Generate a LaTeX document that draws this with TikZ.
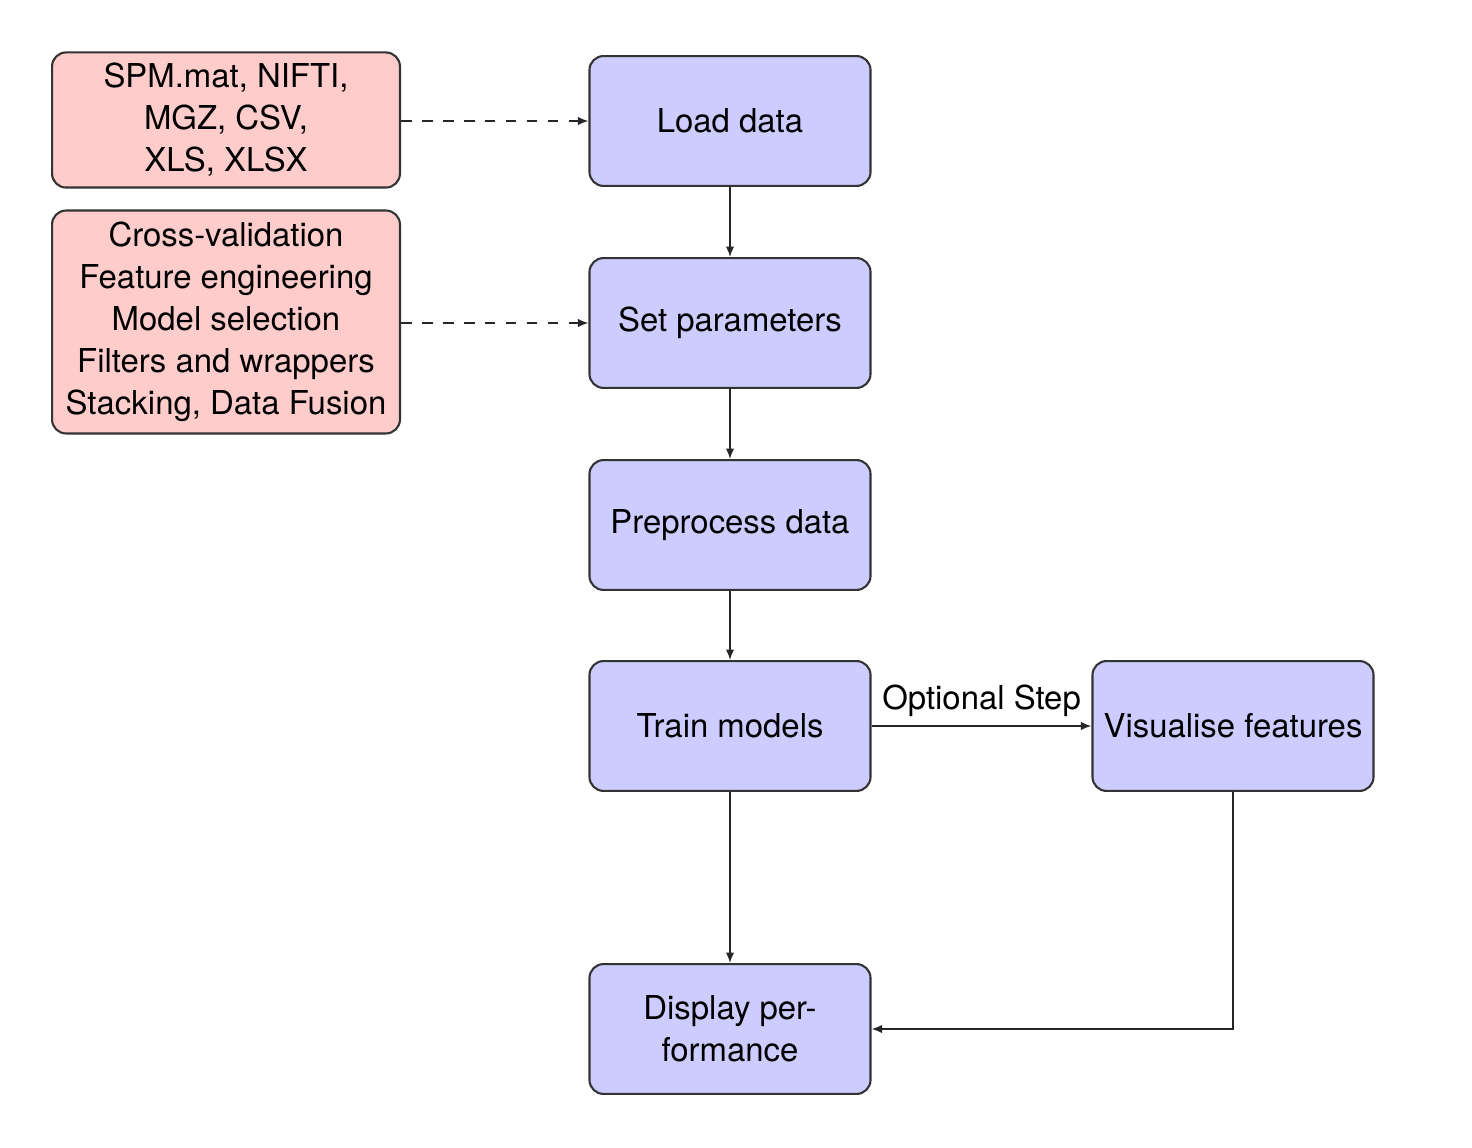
\documentclass[tikz,border=0pt]{standalone}
\usepackage{fontspec}
\setmainfont{TeX Gyre Heros}
\usetikzlibrary{arrows.meta}
\begin{document}
\begin{tikzpicture}[x=0.285714pt, y=-0.285714pt,
  txt/.style={font=\fontsize{9.4}{12}\selectfont},
  blk/.style={txt, draw=black!80, line width=0.6pt, fill=blue!20, rounded corners=4pt,
    minimum width=80.3pt, minimum height=37.1pt, align=center, inner sep=1pt},
  src/.style={txt, draw=black!80, line width=0.6pt, fill=red!20, rounded corners=4pt,
    minimum width=99.4pt, align=center, inner sep=1pt},
  conn/.style={line width=0.45pt, draw=black!85, -{Latex[length=3pt,width=2.4pt]}},
  dconn/.style={conn, dashed}]
\useasboundingbox (0,0) rectangle (1472,1148);
\node[src, minimum height=38.6pt] (s1) at (226,120) {SPM.mat, NIFTI,\\MGZ, CSV,\\XLS, XLSX};
\node[src, minimum height=63.7pt] (s2) at (226,322) {Cross-validation\\Feature engineering\\Model selection\\Filters and wrappers\\Stacking, Data Fusion};
\node[blk] (load) at (730,121) {Load data};
\node[blk] (set) at (730,323) {Set parameters};
\node[blk] (pre) at (730,525) {Preprocess data};
\node[blk] (train) at (730,726) {Train models};
\node[blk] (disp) at (730,1029) {Display per-\\formance};
\node[blk] (vis) at (1233,726) {Visualise features};
\coordinate (corner) at (1233,1029);
\draw[dconn] (s1.east |- load.west) -- (load.west);
\draw[dconn] (s2.east |- set.west) -- (set.west);
\draw[conn] (load) -- (set);
\draw[conn] (set) -- (pre);
\draw[conn] (pre) -- (train);
\draw[conn] (train) -- (disp);
\draw[conn] (train) -- node[txt, above, yshift=-1pt] (opt) {Optional Step} (vis);
\draw[conn] (vis.south) -- (corner) -- (disp.east);
\end{tikzpicture}
\end{document}
